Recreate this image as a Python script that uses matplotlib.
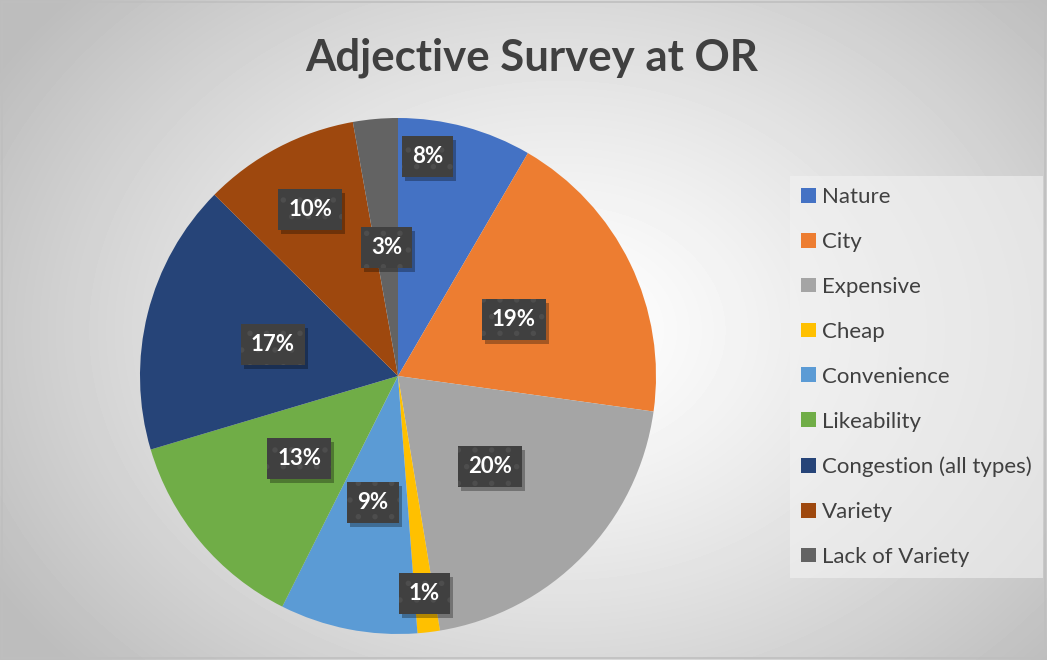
import matplotlib.pyplot as plt
from matplotlib.transforms import IdentityTransform
import numpy as np

# survey data (percent of responses)
labels = ["Nature", "City", "Expensive", "Cheap", "Convenience", "Likeability",
          "Congestion (all types)", "Variety", "Lack of Variety"]
values = [8.4, 18.8, 20.2, 1.4, 8.6, 13.0, 17.0, 9.8, 2.8]
colors = ["#4472C4", "#ED7D31", "#A5A5A5", "#FFC000", "#5B9BD5", "#70AD47",
          "#264478", "#9E480E", "#636363"]
# where each percentage label sits: fraction of radius, and angle nudge (deg)
label_dist = [0.86, 0.5, 0.5, 0.85, 0.5, 0.5, 0.5, 0.73, 0.5]
label_nudge = [7.5, 0, 0, 0, 0, 0, 0, 0, 0]

plt.rcParams['font.family'] = ['Lato', 'DejaVu Sans']
plt.rcParams['hatch.linewidth'] = 1.5

fig = plt.figure(figsize=(10.47, 6.6), dpi=100)

# radial gradient background
bg = fig.add_axes([0, 0, 1, 1])
yy, xx = np.mgrid[0:660, 0:1047]
d = np.sqrt(((xx - 560) / 620.0) ** 2 + ((yy - 330) / 470.0) ** 2)
shade = np.clip(1.0 - 0.24 * d ** 1.3, 0.74, 1.0)
bg.imshow(shade, cmap="gray", vmin=0, vmax=1, aspect="auto", extent=[0, 1, 0, 1])
bg.set_xlim(0, 1)
bg.set_ylim(0, 1)
bg.axis("off")
bg.add_patch(plt.Rectangle((0.002, 0.003), 0.996, 0.994, fill=False,
                           edgecolor="#bfbfbf", linewidth=1.2))

ax = fig.add_axes([140 / 1047, 26 / 660, 516 / 1047, 516 / 660])
wedges, _ = ax.pie(values, colors=colors, startangle=90, counterclock=False,
                   radius=1, wedgeprops=dict(linewidth=0))
ax.set_xlim(-1, 1)
ax.set_ylim(-1, 1)
ax.set_aspect("equal")

pct_texts = []
for w, v, r, nudge in zip(wedges, values, label_dist, label_nudge):
    ang = np.deg2rad((w.theta1 + w.theta2) / 2 + nudge)
    t = ax.text(r * np.cos(ang), r * np.sin(ang), "%.0f%%" % v, ha="center", va="center",
                color="white", fontsize=16, fontweight="bold", zorder=5,
                bbox=dict(boxstyle="square,pad=0.45", facecolor="#404040",
                          edgecolor="#4d4d4d", hatch=".", linewidth=0))
    pct_texts.append(t)

fig.text(0.508, 0.913, "Adjective Survey at OR", ha="center", va="center",
         fontsize=31.5, fontweight="bold", color="#404040")

leg = fig.legend(wedges, labels, loc="upper left", bbox_to_anchor=(790 / 1047, 1 - 176 / 660),
                 frameon=True, fontsize=16, labelcolor="#404040", handlelength=0.65,
                 handleheight=0.65, handletextpad=0.3, labelspacing=1.12,
                 borderpad=0.5, borderaxespad=0, fancybox=False)
leg.get_frame().set_facecolor("#f2f2f2")
leg.get_frame().set_alpha(0.6)
leg.get_frame().set_linewidth(0)

# drop shadows under the label boxes, sized from the drawn boxes
fig.canvas.draw()
for t in pct_texts:
    bb = t.get_bbox_patch().get_window_extent()
    ax.add_patch(plt.Rectangle((bb.x0 + 3, bb.y0 - 4), bb.width, bb.height,
                               transform=IdentityTransform(), facecolor="black",
                               alpha=0.3, linewidth=0, zorder=4))

fig.savefig("out.png", dpi=100)
